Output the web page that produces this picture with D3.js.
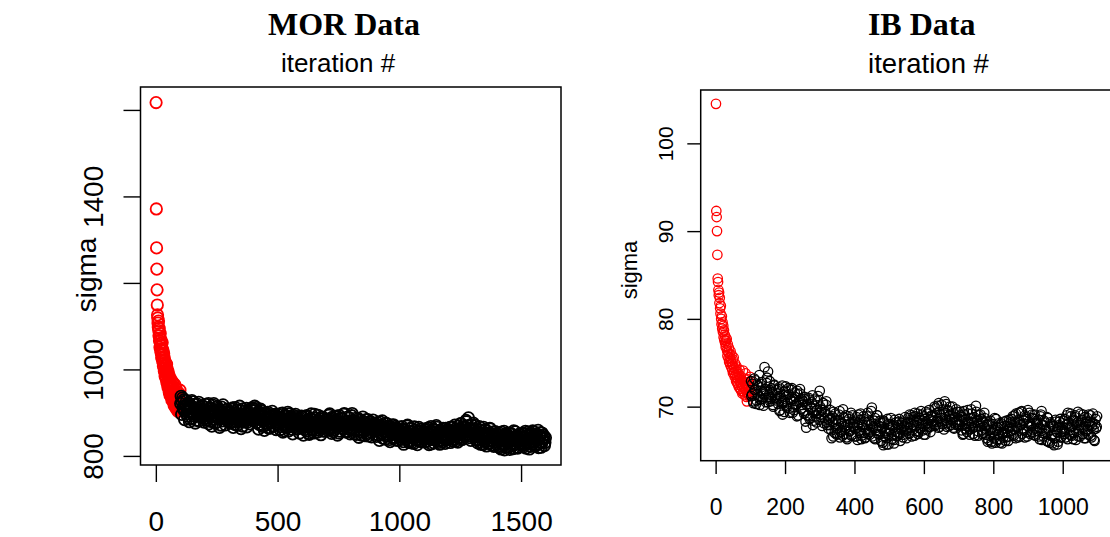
<!DOCTYPE html>
<html>
<head>
<meta charset="utf-8">
<script src="https://cdn.jsdelivr.net/npm/d3@7"></script>
<style>
  body { margin: 0; background: #fff; }
  svg { display: block; }
  text { font-family: "Liberation Sans", Arial, sans-serif; fill: #000; }
  .title { font-family: "Liberation Serif", "Times New Roman", serif; font-weight: bold; }
</style>
</head>
<body>
<svg id="chart" width="1110" height="537"></svg>
<script>
// ---- data ----
// MOR: burn-in iterations 1..100 (red), then the chain (black), sampled on two interleaved grids
const morBurnIn = [
  1617, 1371, 1281, 1232, 1184, 1149, 1126, 1119, 1107, 1098,
  1112, 1090, 1078, 1095, 1066, 1072, 1051, 1083, 1060, 1044,
  1069, 1038, 1055, 1027, 1048, 1062, 1033, 1019, 1045, 1026,
  1008, 1037, 1014, 1029, 996, 1021, 1003, 985, 1016, 992,
  1007, 979, 998, 1012, 971, 989, 1001, 966, 983, 958,
  994, 972, 961, 986, 948, 975, 963, 941, 980, 955,
  968, 937, 959, 974, 944, 929, 962, 951, 935, 970,
  946, 925, 958, 939, 917, 952, 931, 965, 922, 944,
  912, 936, 957, 920, 941, 908, 933, 948, 916, 927,
  903, 939, 924, 911, 945, 918, 930, 906, 952, 921
];
// iterations 104, 108, ..., 1600
const morChainA = [
  938, 925, 912, 930, 904, 918, 897, 922, 909, 885, 915, 928, 901, 893, 919, 906, 882, 911, 924, 898, 907, 889, 916, 903, 895,
  912, 887, 905, 921, 896, 880, 909, 893, 917, 902, 876, 899, 914, 888, 906, 894, 871, 903, 918, 890, 897, 884, 908, 899, 886,
  902, 879, 895, 911, 888, 873, 899, 906, 884, 893, 915, 881, 896, 869, 890, 903, 887, 910, 878, 892, 898, 884, 907, 889, 895,
  909, 898, 912, 886, 901, 873, 893, 905, 882, 868, 890, 897, 876, 888, 901, 864, 885, 893, 879, 870, 889, 896, 874, 883, 891,
  895, 877, 868, 889, 899, 872, 858, 884, 892, 866, 880, 897, 871, 862, 886, 894, 875, 868, 882, 891, 863, 877, 888, 870, 881,
  889, 870, 861, 880, 893, 866, 852, 876, 887, 871, 859, 883, 896, 868, 877, 855, 873, 886, 864, 879, 890, 867, 858, 875, 884,
  870, 885, 894, 862, 877, 889, 856, 874, 881, 866, 892, 871, 853, 879, 887, 864, 875, 896, 868, 857, 880, 890, 872, 861, 877,
  893, 874, 859, 881, 867, 850, 872, 886, 861, 876, 848, 869, 880, 857, 873, 884, 862, 846, 870, 877, 855, 866, 883, 859, 871,
  874, 862, 849, 868, 879, 853, 864, 841, 870, 858, 876, 847, 861, 869, 838, 855, 866, 850, 872, 843, 859, 864, 836, 852, 861,
  866, 845, 855, 833, 861, 850, 840, 869, 846, 831, 857, 864, 842, 851, 829, 860, 847, 838, 855, 866, 835, 849, 858, 841, 852,
  843, 860, 834, 851, 865, 839, 848, 828, 856, 862, 837, 845, 870, 842, 831, 853, 859, 836, 849, 864, 840, 829, 855, 847, 838,
  852, 866, 841, 857, 835, 849, 871, 844, 858, 832, 863, 850, 875, 840, 856, 868, 845, 861, 879, 851, 888, 864, 842, 872, 853,
  876, 858, 845, 863, 837, 851, 868, 833, 849, 857, 826, 844, 861, 839, 852, 829, 847, 864, 835, 842, 855, 822, 846, 838, 850,
  831, 848, 819, 840, 855, 826, 837, 814, 845, 852, 829, 838, 821, 850, 834, 843, 817, 839, 856, 828, 846, 820, 835, 849, 827,
  844, 825, 852, 836, 818, 847, 855, 831, 840, 822, 849, 858, 833, 843, 826, 851, 837, 819, 846, 854, 830, 841, 848, 824, 842
];
// iterations 102, 106, ..., 1598
const morChainB = [
  921, 896, 934, 907, 884, 915, 928, 892, 903, 879, 918, 899, 887, 925, 910, 876, 902, 920, 893, 881, 913, 897, 888, 906, 878,
  906, 919, 883, 897, 874, 911, 890, 869, 904, 921, 885, 895, 878, 910, 899, 866, 889, 913, 881, 894, 905, 872, 887, 901, 880,
  893, 876, 908, 885, 866, 899, 912, 880, 871, 896, 887, 905, 863, 892, 909, 878, 884, 899, 867, 901, 886, 874, 895, 911, 882,
  904, 915, 889, 877, 898, 862, 885, 908, 871, 894, 881, 859, 900, 887, 872, 896, 878, 865, 891, 903, 869, 882, 895, 861, 886,
  873, 889, 861, 898, 880, 855, 871, 893, 866, 884, 901, 858, 876, 890, 869, 851, 887, 879, 896, 862, 874, 885, 853, 881, 892,
  866, 848, 879, 891, 858, 872, 884, 850, 869, 897, 862, 877, 853, 888, 874, 860, 894, 868, 881, 849, 871, 886, 857, 878, 865,
  882, 859, 871, 897, 866, 852, 884, 876, 861, 890, 869, 848, 878, 893, 857, 873, 885, 863, 898, 870, 855, 879, 866, 888, 851,
  880, 898, 864, 851, 876, 887, 858, 869, 843, 882, 873, 855, 890, 866, 847, 877, 861, 884, 852, 870, 879, 844, 863, 874, 857,
  866, 845, 877, 859, 836, 870, 852, 881, 848, 863, 839, 857, 874, 846, 866, 833, 860, 871, 842, 854, 868, 837, 850, 862, 844,
  857, 838, 868, 847, 827, 860, 843, 853, 871, 835, 849, 864, 830, 855, 842, 867, 837, 851, 826, 858, 844, 862, 833, 848, 856,
  850, 832, 863, 841, 856, 826, 847, 868, 838, 853, 830, 859, 844, 866, 835, 849, 827, 857, 842, 861, 833, 851, 864, 839, 845,
  844, 860, 831, 853, 866, 839, 848, 862, 835, 857, 869, 843, 852, 874, 838, 859, 866, 847, 882, 855, 870, 846, 861, 836, 857,
  862, 849, 871, 838, 855, 830, 846, 860, 827, 852, 841, 866, 834, 848, 823, 857, 843, 830, 862, 837, 851, 825, 845, 856, 833,
  842, 822, 853, 834, 816, 846, 829, 857, 838, 820, 849, 832, 843, 815, 852, 836, 824, 858, 841, 827, 847, 818, 839, 851, 830,
  836, 851, 821, 843, 857, 829, 838, 847, 816, 852, 834, 826, 856, 841, 823, 848, 837, 859, 828, 845, 820, 853, 835, 844, 831
];

// IB: burn-in iterations 1..100 (red), then the chain (black) on two interleaved grids
const ibBurnIn = [
  104.5, 92.3, 91.6, 90.0, 87.3, 84.6, 84.2, 83.3, 82.7, 83.0,
  81.8, 82.4, 81.2, 80.6, 81.5, 80.0, 79.4, 80.3, 78.9, 79.6,
  78.5, 79.2, 77.9, 78.7, 77.6, 78.2, 77.3, 78.0, 76.8, 77.5,
  76.9, 77.7, 76.4, 75.8, 77.1, 76.2, 75.5, 76.7, 75.1, 76.0,
  75.6, 74.8, 76.3, 75.2, 74.5, 75.9, 74.9, 74.2, 75.4, 73.8,
  74.7, 75.6, 73.9, 74.4, 73.4, 74.9, 73.6, 74.1, 72.9, 74.6,
  73.3, 72.7, 74.0, 73.1, 72.5, 73.7, 72.2, 73.4, 74.2, 72.8,
  72.0, 73.5, 72.6, 71.8, 73.0, 72.3, 71.5, 72.9, 74.1, 72.4,
  71.7, 73.2, 72.1, 71.3, 72.7, 73.8, 71.9, 72.4, 71.1, 70.6,
  72.5, 71.6, 73.1, 72.0, 71.4, 72.8, 71.2, 72.3, 73.4, 71.8
];
// iterations 102, 105, ..., 1098
const ibChainA = [
  72.9, 71.4, 70.6, 73.2, 71.9, 70.3, 72.5, 71.1, 73.6, 70.8, 72.2, 71.6, 70.1, 74.5, 71.8, 72.7, 70.5, 71.3, 72.9, 70.9, 71.7, 70.2, 72.4, 71.0, 71.9,
  71.5, 70.3, 72.2, 69.6, 71.0, 72.4, 70.6, 69.4, 71.8, 70.1, 71.3, 72.1, 69.8, 70.7, 71.9, 69.3, 70.9, 71.6, 70.2, 68.9, 71.4, 70.5, 72.0, 69.7, 70.8,
  70.6, 69.2, 71.1, 67.6, 70.3, 69.0, 70.8, 68.7, 69.9, 71.3, 68.4, 70.1, 69.5, 68.2, 70.7, 69.3, 71.8, 68.8, 69.6, 70.4, 68.1, 69.4, 70.2, 67.9, 69.0,
  68.5, 69.6, 67.3, 68.9, 66.6, 68.0, 69.2, 67.5, 66.9, 68.4, 69.5, 67.1, 68.2, 66.7, 68.8, 67.7, 69.0, 66.5, 67.9, 68.6, 67.2, 69.3, 66.8, 68.1, 67.6,
  68.3, 66.6, 67.9, 69.1, 67.2, 68.5, 66.3, 67.7, 68.9, 67.0, 66.5, 68.2, 69.3, 67.4, 66.8, 68.0, 69.9, 67.6, 66.4, 68.7, 67.3, 69.0, 66.9, 67.8, 68.4,
  66.1, 67.5, 65.6, 68.2, 67.0, 66.4, 68.6, 65.7, 67.3, 68.0, 66.7, 67.8, 66.2, 68.5, 67.1, 66.6, 67.9, 68.3, 66.9, 67.4, 68.1, 66.5, 67.7, 68.8, 67.2,
  67.6, 68.7, 66.9, 68.2, 69.0, 67.3, 68.5, 66.7, 68.9, 67.8, 69.2, 67.1, 68.4, 67.5, 69.1, 68.0, 66.8, 68.6, 69.4, 67.4, 68.1, 69.6, 67.7, 68.9, 68.3,
  69.0, 67.8, 69.8, 68.3, 70.1, 67.6, 69.4, 68.7, 70.2, 68.0, 69.1, 70.6, 68.4, 67.7, 69.6, 68.9, 70.0, 67.9, 68.6, 69.3, 67.5, 68.8, 69.7, 68.2, 67.9,
  68.5, 69.4, 67.3, 68.8, 66.9, 69.1, 68.0, 67.4, 69.6, 68.3, 66.8, 68.7, 69.2, 67.6, 68.1, 66.7, 70.1, 68.4, 67.2, 69.0, 67.8, 68.6, 66.9, 68.2, 69.3,
  67.5, 66.4, 68.0, 66.2, 67.3, 68.4, 66.0, 67.1, 66.6, 68.7, 65.9, 67.4, 66.8, 68.1, 66.3, 67.7, 65.8, 66.9, 68.3, 67.0, 66.5, 67.8, 66.1, 68.5, 67.2,
  68.6, 66.8, 67.5, 69.0, 66.4, 68.2, 67.7, 69.3, 66.6, 68.0, 69.5, 67.3, 68.4, 66.5, 68.8, 67.1, 69.6, 68.3, 66.9, 67.8, 69.1, 67.4, 68.6, 66.7, 68.1,
  67.2, 68.5, 66.3, 68.9, 69.5, 67.0, 66.6, 68.2, 67.5, 66.1, 68.7, 67.3, 65.9, 68.0, 66.8, 67.7, 65.6, 66.4, 68.3, 67.1, 66.0, 67.9, 68.6, 66.5, 67.4,
  68.4, 66.9, 67.6, 69.0, 66.3, 68.1, 67.3, 69.2, 66.7, 68.5, 67.0, 68.8, 66.2, 67.9, 69.4, 67.4, 66.6, 68.3, 67.7, 69.1, 66.4, 68.0, 67.2, 68.7, 66.8,
  67.9, 69.0, 66.5, 68.2, 67.4, 66.1, 68.6, 67.7
];
// iterations 103, 106, ..., 1099
const ibChainB = [
  71.2, 72.6, 70.4, 71.9, 73.0, 70.7, 71.5, 72.3, 70.2, 71.8, 72.8, 70.9, 71.4, 72.0, 70.5, 73.3, 74.0, 71.1, 70.6, 72.1, 71.6, 70.0, 72.5, 71.3, 70.7,
  70.9, 72.0, 69.5, 71.2, 70.4, 69.1, 71.7, 70.6, 72.3, 69.9, 70.5, 71.4, 69.3, 70.8, 72.1, 70.0, 69.6, 71.1, 70.3, 71.8, 69.0, 70.6, 71.5, 69.8, 70.2,
  69.5, 70.9, 68.3, 70.2, 69.0, 71.0, 68.6, 69.8, 70.5, 67.9, 69.3, 70.8, 68.9, 69.6, 71.2, 68.5, 70.0, 69.1, 67.8, 70.4, 68.7, 69.4, 70.6, 68.2, 67.5,
  67.9, 68.7, 66.4, 68.2, 69.4, 67.0, 68.5, 66.8, 67.6, 69.1, 66.5, 68.0, 67.3, 69.7, 66.9, 68.3, 67.5, 66.3, 68.9, 67.2, 68.1, 66.7, 69.0, 67.7, 66.6,
  67.5, 68.8, 66.2, 68.1, 67.0, 69.2, 66.7, 67.9, 68.6, 66.4, 67.4, 68.9, 66.9, 68.3, 67.1, 69.5, 66.6, 67.8, 68.4, 66.3, 67.6, 69.0, 67.2, 66.8, 68.2,
  67.7, 65.9, 68.4, 66.6, 67.2, 65.7, 68.0, 66.9, 67.5, 68.7, 66.3, 67.9, 65.8, 67.4, 68.2, 66.7, 67.0, 68.6, 66.1, 67.6, 68.3, 66.8, 67.3, 68.0, 66.4,
  68.2, 67.0, 69.1, 67.6, 66.6, 68.8, 67.9, 69.3, 67.2, 68.4, 66.9, 68.7, 67.5, 69.5, 68.1, 67.3, 68.9, 66.8, 68.0, 69.2, 67.7, 68.5, 67.1, 69.0, 67.8,
  68.4, 70.0, 67.9, 69.3, 68.6, 70.4, 67.7, 69.0, 68.2, 69.7, 67.4, 68.8, 70.3, 68.1, 69.5, 67.8, 69.1, 68.5, 70.0, 67.6, 69.2, 68.3, 67.9, 69.4, 68.0,
  67.9, 69.0, 68.3, 66.8, 69.5, 67.5, 68.6, 67.1, 69.2, 68.0, 67.4, 69.7, 68.2, 66.9, 68.8, 67.7, 69.4, 68.5, 66.7, 68.1, 69.1, 67.3, 68.4, 67.0, 68.7,
  66.8, 67.9, 66.0, 68.2, 66.7, 67.5, 65.8, 68.0, 66.4, 67.3, 68.6, 66.2, 67.6, 66.9, 65.9, 68.1, 67.0, 66.5, 67.8, 66.1, 68.4, 67.2, 66.6, 67.7, 68.2,
  67.3, 68.9, 66.7, 68.3, 69.2, 67.6, 66.5, 68.5, 67.9, 69.4, 66.9, 68.1, 67.4, 69.0, 68.6, 66.6, 67.8, 69.3, 68.0, 67.1, 68.7, 66.8, 69.1, 67.5, 68.4,
  68.0, 66.6, 67.6, 69.1, 66.2, 67.9, 68.4, 66.9, 67.3, 68.8, 66.0, 67.5, 68.2, 66.7, 65.8, 67.8, 66.4, 68.5, 67.1, 65.7, 67.7, 68.3, 66.5, 67.2, 68.1,
  67.1, 68.6, 66.5, 68.0, 69.3, 67.5, 66.8, 68.9, 67.7, 66.3, 68.4, 69.0, 67.2, 68.2, 66.6, 67.9, 69.2, 68.5, 66.9, 67.6, 68.8, 66.4, 68.3, 67.4, 69.1,
  68.3, 66.7, 67.8, 69.2, 66.2, 68.0, 67.5, 68.9
];

// grids of the chain samples: [first iteration, step]
const morGridA = [104, 4];
const morGridB = [102, 4];
const ibGridA = [102, 3];
const ibGridB = [103, 3];

// tick values and labels (R drops labels that would collide)
const morXTicks = [0, 500, 1000, 1500];
const morYTicks = [800, 1000, 1200, 1400, 1600];
const morYLabels = ["800", "1000", "", "1400", ""];
const ibXTicks = [0, 200, 400, 600, 800, 1000];
const ibYTicks = [70, 80, 90, 100];
const ibYLabels = ["70", "80", "90", "100"];

const svg = d3.select("#chart");

function onGrid(values, grid) {
  return values.map((v, i) => ({ iter: grid[0] + i * grid[1], value: v }));
}

/**
 * Draws one trace panel in the style of R base graphics
 */
function drawPanel(cfg) {
  const g = svg.append("g");
  const x = d3.scaleLinear().domain(cfg.xDomain).range([cfg.left, cfg.right]);
  const y = d3.scaleLinear().domain(cfg.yDomain).range([cfg.bottom, cfg.top]);

  const red = cfg.burnIn.map((v, i) => ({ iter: i + 1, value: v }));
  const black = onGrid(cfg.chainA, cfg.gridA)
    .concat(onGrid(cfg.chainB, cfg.gridB))
    .sort((a, b) => a.iter - b.iter);

  // points: burn-in first, chain on top
  [[red, "#ff0000"], [black, "#000"]].forEach(([pts, color]) => {
    g.append("g")
      .selectAll("circle")
      .data(pts)
      .join("circle")
      .attr("cx", (d) => x(d.iter))
      .attr("cy", (d) => y(d.value))
      .attr("r", cfg.r)
      .attr("fill", "none")
      .attr("stroke", color)
      .attr("stroke-width", cfg.sw);
  });

  // box
  g.append("rect")
    .attr("x", cfg.left)
    .attr("y", cfg.top)
    .attr("width", cfg.right - cfg.left)
    .attr("height", cfg.bottom - cfg.top)
    .attr("fill", "none")
    .attr("stroke", "#000")
    .attr("stroke-width", 1.5);

  // x axis
  const xAxis = g.append("g")
    .attr("transform", `translate(0,${cfg.bottom})`)
    .call(d3.axisBottom(x).tickValues(cfg.xTicks).tickSize(cfg.tick).tickFormat(d3.format("d")));
  xAxis.select(".domain").remove();
  xAxis.selectAll("line").attr("stroke", "#000").attr("stroke-width", 1.4);
  xAxis.selectAll("text")
    .attr("y", cfg.xLabelBase)
    .attr("dy", null)
    .attr("font-size", cfg.xFont)
    .attr("font-family", "Liberation Sans, Arial, sans-serif")
    .attr("fill", "#000");

  // y axis, labels parallel to the axis
  const yAxis = g.append("g")
    .attr("transform", `translate(${cfg.left},0)`)
    .call(d3.axisLeft(y).tickValues(cfg.yTicks).tickSize(cfg.tick).tickFormat((d, i) => cfg.yLabels[i]));
  yAxis.select(".domain").remove();
  yAxis.selectAll("line").attr("stroke", "#000").attr("stroke-width", 1.4);
  yAxis.selectAll("text")
    .attr("x", null)
    .attr("dy", null)
    .attr("text-anchor", "middle")
    .attr("transform", `translate(${-cfg.yLabelBase},0) rotate(-90)`)
    .attr("font-size", cfg.yFont)
    .attr("font-family", "Liberation Sans, Arial, sans-serif")
    .attr("fill", "#000");

  // y label
  svg.append("text")
    .attr("transform", `translate(${cfg.ylabX},${cfg.ylabY}) rotate(-90)`)
    .attr("text-anchor", "middle")
    .attr("font-size", cfg.ylabFont)
    .text("sigma");

  // titles
  svg.append("text")
    .attr("class", "title")
    .attr("x", cfg.titleX)
    .attr("y", 35)
    .attr("text-anchor", "middle")
    .attr("font-size", 32)
    .text(cfg.title);
  svg.append("text")
    .attr("x", cfg.subX)
    .attr("y", cfg.subY)
    .attr("text-anchor", "middle")
    .attr("font-size", cfg.subFont)
    .text("iteration #");
}

drawPanel({
  title: "MOR Data",
  burnIn: morBurnIn, chainA: morChainA, gridA: morGridA, chainB: morChainB, gridB: morGridB,
  xDomain: [-63, 1664], yDomain: [779, 1653],
  left: 140.5, right: 561, top: 87, bottom: 465,
  xTicks: morXTicks, yTicks: morYTicks, yLabels: morYLabels,
  r: 5.7, sw: 1.8, tick: 17,
  xFont: 28, xLabelBase: 66, yFont: 28, yLabelBase: 37.5,
  ylabX: 96, ylabY: 275, ylabFont: 28,
  titleX: 344, subX: 338, subY: 72, subFont: 26
});

drawPanel({
  title: "IB Data",
  burnIn: ibBurnIn, chainA: ibChainA, gridA: ibGridA, chainB: ibChainB, gridB: ibGridB,
  xDomain: [-43, 1144], yDomain: [63.84, 106.08],
  left: 700.7, right: 1112.7, top: 90, bottom: 460.7,
  xTicks: ibXTicks, yTicks: ibYTicks, yLabels: ibYLabels,
  r: 4.7, sw: 1.3, tick: 13.4,
  xFont: 23, xLabelBase: 54.3, yFont: 21, yLabelBase: 28,
  ylabX: 637, ylabY: 270, ylabFont: 22,
  titleX: 921.7, subX: 928.5, subY: 73, subFont: 27.5
});
</script>
</body>
</html>
